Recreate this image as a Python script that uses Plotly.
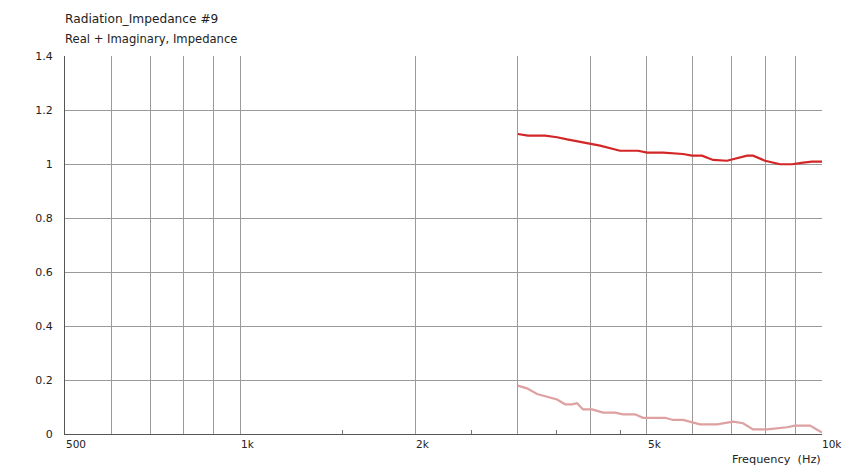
import numpy as np
import plotly.graph_objects as go

# Data
real_freq = [3000, 3124, 3342, 3505, 3647, 3840, 3979, 4155, 4497, 4829, 5004, 5332, 5770, 5980,
             6219, 6499, 6866, 7035, 7434, 7612, 7983, 8472, 8884, 9280, 9616, 10000]
real_vals = [1.111, 1.105, 1.105, 1.099, 1.091, 1.083, 1.077, 1.068, 1.049, 1.049, 1.042, 1.042,
             1.037, 1.031, 1.031, 1.015, 1.012, 1.017, 1.031, 1.031, 1.012, 0.999, 0.999, 1.005,
             1.009, 1.009]
imag_freq = [3000, 3112, 3238, 3369, 3505, 3618, 3720, 3793, 3884, 4025, 4204, 4409, 4550, 4772,
             4925, 5375, 5546, 5770, 6171, 6602, 7035, 7317, 7612, 8046, 8369, 8709, 8989, 9538,
             10000]
imag_vals = [0.179, 0.169, 0.148, 0.138, 0.128, 0.110, 0.110, 0.114, 0.091, 0.091, 0.079, 0.079,
             0.073, 0.073, 0.060, 0.060, 0.052, 0.052, 0.036, 0.036, 0.046, 0.040, 0.017, 0.017,
             0.020, 0.025, 0.031, 0.031, 0.005]

grid_vals = [500, 600, 700, 800, 900, 1000, 2000, 3000, 4000, 5000, 6000, 7000, 8000, 9000, 10000]
label_vals = [500, 1000, 2000, 5000, 10000]
label_text = ["500", "1k", "2k", "5k", "10k"]
minor_vals = [1500, 2500, 3500, 4500]
y_ticks = [0, 0.2, 0.4, 0.6, 0.8, 1.0, 1.2, 1.4]
y_text = ["0", "0.2", "0.4", "0.6", "0.8", "1", "1.2", "1.4"]

FONT = "DejaVu Sans, Verdana, sans-serif"
TXT = "#222222"

fig = go.Figure()
fig.add_trace(go.Scatter(x=imag_freq, y=imag_vals, mode="lines",
                         line=dict(color="rgb(222,160,160)", width=2.2), name="Imaginary"))
fig.add_trace(go.Scatter(x=real_freq, y=real_vals, mode="lines",
                         line=dict(color="rgb(212,38,38)", width=2.2), name="Real"))

fig.update_layout(
    width=844, height=469,
    margin=dict(l=65, r=22, t=56, b=35),
    paper_bgcolor="white", plot_bgcolor="white",
    showlegend=False,
    font=dict(family=FONT, size=11, color=TXT),
    xaxis=dict(type="log", range=[np.log10(500), np.log10(10000)],
               tickvals=grid_vals, ticktext=[""] * len(grid_vals),
               showgrid=True, gridcolor="#9a9a9a", gridwidth=1,
               showline=True, linecolor="#555555", linewidth=1,
               ticks="", zeroline=False,
               minor=dict(tickvals=minor_vals, ticks="inside", ticklen=4,
                          tickcolor="#777777", showgrid=False)),
    yaxis=dict(range=[0, 1.4], tickvals=y_ticks, ticktext=y_text,
               showgrid=True, gridcolor="#9a9a9a", gridwidth=1,
               showline=True, linecolor="#555555", linewidth=1,
               ticks="", zeroline=False, tickfont=dict(size=11, color=TXT),
               ticklabelstandoff=9),
)

for v, t in zip(label_vals, label_text):
    fig.add_annotation(x=np.log10(v), y=0, xref="x", yref="paper", text=t,
                       showarrow=False, xanchor="left", yanchor="top", yshift=-2,
                       xshift=-2 if v == 10000 else -1,
                       font=dict(size=10.5, color=TXT, family=FONT))

fig.add_annotation(x=1, y=0, xref="paper", yref="paper", text="Frequency  (Hz)",
                   showarrow=False, xanchor="right", yanchor="top", yshift=-17, xshift=1,
                   font=dict(size=11.3, color=TXT, family=FONT))
fig.add_annotation(x=0, y=1, xref="paper", yref="paper", text="Radiation_Impedance #9",
                   showarrow=False, xanchor="left", yanchor="bottom", yshift=28, xshift=-2,
                   font=dict(size=12.2, color=TXT, family=FONT))
fig.add_annotation(x=0, y=1, xref="paper", yref="paper", text="Real + Imaginary, Impedance",
                   showarrow=False, xanchor="left", yanchor="bottom", yshift=8, xshift=-2,
                   font=dict(size=11.6, color=TXT, family=FONT))

fig.write_html("out.html", config={"displayModeBar": False},
               post_script="document.body.style.margin='0';document.body.style.overflow='hidden';")
